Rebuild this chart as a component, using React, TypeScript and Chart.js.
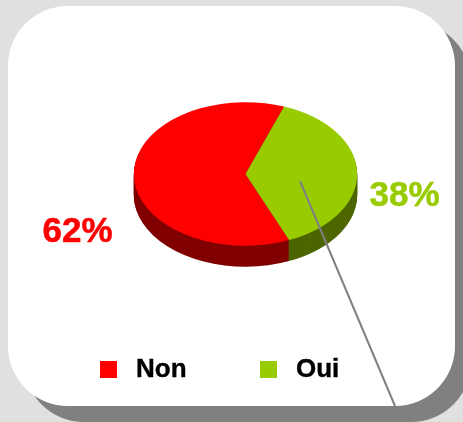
import React, { useEffect, useRef } from "react";
import { Chart, registerables } from "chart.js";

Chart.register(...registerables);

const categories = ["Non", "Oui"];
const shares = [62, 38];
const topColors = ["#ff0000", "#99cc00"];
const sideColors = ["#800000", "#4d6600"];

const SQUASH = 0.643;
const DEPTH = 21;

const piePlugin = {
  id: "tiltedPie",
  beforeDatasetsDraw(chart: any) {
    const { ctx } = chart;
    const arcs = chart.getDatasetMeta(0).data;
    const cy = arcs[0].y;
    ctx.save();
    ctx.translate(0, cy);
    ctx.scale(1, SQUASH);
    ctx.translate(0, -cy);
    for (let d = DEPTH; d >= 1; d--) {
      ctx.save();
      ctx.translate(0, d / SQUASH);
      arcs.forEach((arc: any, i: number) => {
        const fill = arc.options.backgroundColor;
        arc.options.backgroundColor = sideColors[i];
        arc.draw(ctx);
        arc.options.backgroundColor = fill;
      });
      ctx.restore();
    }
  },
  afterDatasetsDraw(chart: any) {
    const { ctx } = chart;
    ctx.restore();

    // leader line
    ctx.save();
    ctx.strokeStyle = "#808080";
    ctx.lineWidth = 2;
    ctx.beginPath();
    ctx.moveTo(300, 181);
    ctx.lineTo(395, 406);
    ctx.stroke();
    ctx.restore();

    // percent labels
    ctx.save();
    ctx.font = 'bold 35px "Liberation Sans", Arial, sans-serif';
    ctx.textBaseline = "middle";
    ctx.textAlign = "center";
    ctx.lineWidth = 0.5;
    const labelPos = [
      [77.5, 232],
      [404.5, 196],
    ];
    shares.forEach((v, i) => {
      ctx.fillStyle = topColors[i];
      ctx.strokeStyle = topColors[i];
      ctx.fillText(`${v}%`, labelPos[i][0], labelPos[i][1]);
      ctx.strokeText(`${v}%`, labelPos[i][0], labelPos[i][1]);
    });

    // legend
    ctx.font = 'bold 26px "Liberation Sans", Arial, sans-serif';
    ctx.textAlign = "left";
    ctx.strokeStyle = "#000000";
    ctx.lineWidth = 0.4;
    const legendX = [100, 260];
    categories.forEach((c, i) => {
      ctx.fillStyle = topColors[i];
      ctx.fillRect(legendX[i], 361, 17, 17);
      ctx.fillStyle = "#000000";
      ctx.fillText(c, legendX[i] + 36, 369.5);
      ctx.strokeText(c, legendX[i] + 36, 369.5);
    });
    ctx.restore();
  },
};

export default function App() {
  const ref = useRef<HTMLCanvasElement>(null);
  useEffect(() => {
    const chart = new Chart(ref.current!, {
      type: "pie",
      data: {
        labels: categories,
        datasets: [
          {
            data: shares,
            backgroundColor: topColors,
            borderWidth: 0,
          },
        ],
      },
      options: {
        responsive: false,
        animation: false,
        rotation: 157,
        radius: 111.7,
        layout: { padding: { left: 28, right: 0, top: 0, bottom: 74 } },
        plugins: { legend: { display: false }, tooltip: { enabled: false } },
      },
      plugins: [piePlugin],
    } as any);
    return () => chart.destroy();
  }, []);

  return (
    <div
      style={{
        position: "fixed",
        left: 0,
        top: 0,
        width: 463,
        height: 422,
        overflow: "hidden",
        background: "#e0e0e0",
      }}
    >
      <div
        style={{
          position: "absolute",
          left: 24,
          top: 22,
          width: 447,
          height: 400,
          borderRadius: 60,
          background: "#808080",
        }}
      />
      <div
        style={{
          position: "absolute",
          left: 8,
          top: 6,
          width: 447,
          height: 400,
          borderRadius: 60,
          background: "#ffffff",
        }}
      />
      <canvas
        ref={ref}
        width={463}
        height={422}
        style={{ position: "absolute", left: 0, top: 0, display: "block" }}
      />
    </div>
  );
}
